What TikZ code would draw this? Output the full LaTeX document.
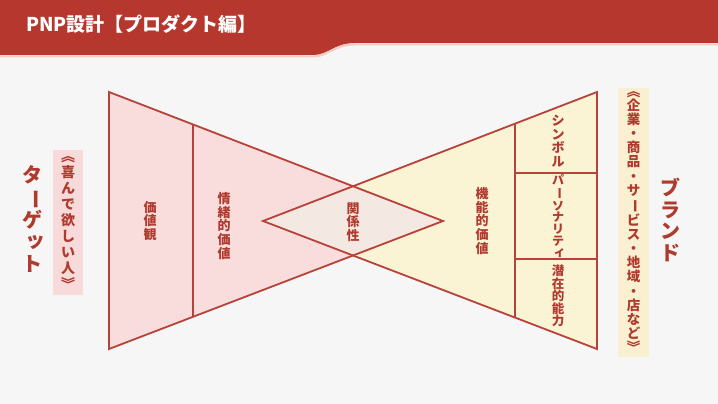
\documentclass[tikz,border=0pt]{standalone}
\usepackage{fontspec}
\setmainfont{Noto Sans CJK JP}
\definecolor{hdr}{HTML}{B5372E}
\definecolor{ln}{HTML}{B7423A}
\definecolor{tx}{HTML}{B03A2E}
\definecolor{pinkf}{HTML}{F9DCDC}
\definecolor{creamf}{HTML}{FAF3D4}
\definecolor{diaf}{HTML}{F3E8E2}
\definecolor{bg}{HTML}{F6F6F6}
\definecolor{shad}{HTML}{F2CDBF}
\definecolor{pbox}{HTML}{F9DADA}
\definecolor{cbox}{HTML}{F8F0D0}
\newcommand{\vbar}{\rotatebox[origin=c]{-90}{ー}}
\newcommand{\vsmall}[1]{\makebox[1em][l]{\hspace{0.14em}\raisebox{0.08em}{#1}}}
\newcommand{\vopen}{︽}
\newcommand{\vclose}{︾}
\tikzset{
  vlab/.style={text=tx, align=center, inner sep=0pt, font=\bfseries\fontsize{13}{13.6}\selectfont},
  biglab/.style={text=tx, align=center, inner sep=0pt, font=\bfseries\fontsize{20}{21.6}\selectfont},
  edge/.style={draw=ln, line width=1.8pt, line join=miter},
}
\begin{document}
\begin{tikzpicture}[x=1pt,y=-1pt]
\useasboundingbox (0,0) rectangle (718,404);
\fill[bg] (0,0) rectangle (718,404);
% header
\draw[shad, line width=2pt] (0,56.5) -- (313,56.5) .. controls (328,56.5) and (334,44.5) .. (355,44.5) -- (718,44.5);
\fill[hdr] (0,0) -- (718,0) -- (718,43) -- (355,43) .. controls (334,43) and (328,55) .. (313,55) -- (0,55) -- cycle;
\node[anchor=west, text=white, inner sep=0pt, font=\bfseries\fontsize{19}{20}\selectfont] (title) at (26,24) {PNP設計【プロダクト編】};
% coordinates
\coordinate (LT) at (109,92);
\coordinate (LB) at (109,349);
\coordinate (LA) at (443,221);
\coordinate (RT) at (597,92);
\coordinate (RB) at (597,349);
\coordinate (RA) at (263,221);
\coordinate (DT) at (353,186.5);
\coordinate (DB) at (353,255.5);
\coordinate (L1) at (193,124.3);
\coordinate (L2) at (193,316.7);
\coordinate (R1) at (515,123.5);
\coordinate (R2) at (515,317.5);
\coordinate (H1a) at (515,173);
\coordinate (H1b) at (597,173);
\coordinate (H2a) at (515,259);
\coordinate (H2b) at (597,259);
% fills
\fill[pinkf] (LT) -- (LB) -- (LA) -- cycle;
\fill[creamf] (RT) -- (RB) -- (RA) -- cycle;
\fill[diaf] (RA) -- (DT) -- (LA) -- (DB) -- cycle;
% outlines
\draw[edge] (LT) -- (LB) -- (LA) -- cycle;
\draw[edge] (RT) -- (RB) -- (RA) -- cycle;
\draw[edge] (L1) -- (L2);
\draw[edge] (R1) -- (R2);
\draw[edge] (H1a) -- (H1b);
\draw[edge] (H2a) -- (H2b);
% labels
\node[vlab] (kachikan) at (150,221) {価\\値\\観};
\node[vlab] (jocho) at (224,226) {情\\緒\\的\\価\\値};
\node[vlab] (kankei) at (353,222) {関\\係\\性};
\node[vlab] (kino) at (482,221) {機\\能\\的\\価\\値};
\node[vlab] (symbol) at (558,141) {シ\\ン\\ボ\\ル};
\node[vlab, font=\bfseries\fontsize{12}{11.8}\selectfont] (person) at (558,216) {パ\\\vbar\\ソ\\ナ\\リ\\テ\\\vsmall{ィ}};
\node[vlab, font=\bfseries\fontsize{12.5}{12.6}\selectfont] (senzai) at (558,296) {潜\\在\\的\\能\\力};
% side labels
\fill[pbox] (53,150) rectangle (83,295);
\node[vlab, font=\bfseries\fontsize{14}{16}\selectfont] (yorokobu) at (68,222.5) {\vopen\\喜\\ん\\で\\欲\\し\\い\\人\\\vclose};
\node[biglab] (target) at (33,219) {タ\\\vbar\\ゲ\\\vsmall{ッ}\\ト};
\fill[cbox] (618,88) rectangle (649,357);
\node[vlab, font=\bfseries\fontsize{13.5}{14.1}\selectfont] (kigyo) at (633.5,222) {\vopen\\企\\業\\・\\商\\品\\・\\サ\\\vbar\\ビ\\ス\\・\\地\\域\\・\\店\\な\\ど\\\vclose};
\node[biglab] (brand) at (670,220) {ブ\\ラ\\ン\\ド};
\end{tikzpicture}
\end{document}
